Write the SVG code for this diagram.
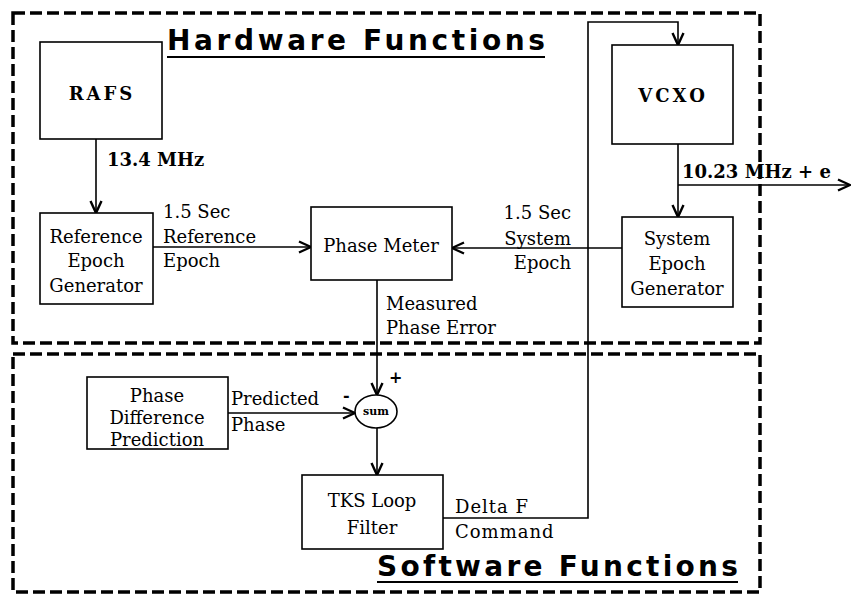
<svg xmlns="http://www.w3.org/2000/svg" width="852" height="599" viewBox="0 0 852 599">
<defs>
<marker id="arr" viewBox="0 0 14 14" refX="13" refY="7" markerWidth="14" markerHeight="14" markerUnits="userSpaceOnUse" orient="auto">
<path d="M1,1.5 L13,7 L1,12.5" fill="none" stroke="#000" stroke-width="2.4" stroke-linejoin="miter"/>
</marker>
</defs>
<style>
.region{fill:none;stroke:#000;stroke-width:3.5;stroke-dasharray:12 5}
.box{fill:#fff;stroke:#000;stroke-width:1.6}
.t{font-family:"DejaVu Serif","Liberation Serif",serif;font-size:18px;fill:#000}
.b{font-weight:bold}
.c{text-anchor:middle}
.r{text-anchor:end}
.big{letter-spacing:3px}
.sm{font-size:11px}
.sign{font-size:16px}
.title{font-family:"DejaVu Sans","Verdana",sans-serif;font-weight:bold;font-size:28px;fill:#000}
.ul{stroke:#000;stroke-width:2.2}
.ln{fill:none;stroke:#000;stroke-width:1.6}
.arrow{marker-end:url(#arr)}
</style>
<rect width="852" height="599" fill="#fff"/>

<g id="regions">
<rect class="region" x="13" y="13" width="747" height="330"/>
<rect class="region" x="13" y="354" width="747" height="238"/>
</g>

<g id="titles">
<text class="title" x="167" y="50" textLength="378" lengthAdjust="spacing">Hardware Functions</text>
<line class="ul" x1="167" y1="57" x2="545" y2="57"/>
<text class="title" x="377" y="576" textLength="361" lengthAdjust="spacing">Software Functions</text>
<line class="ul" x1="377" y1="582" x2="738" y2="582"/>
</g>

<g id="connectors">
<line class="ln arrow" x1="96" y1="139" x2="96" y2="213"/>
<line class="ln arrow" x1="153" y1="247" x2="311" y2="247"/>
<line class="ln arrow" x1="622" y1="248" x2="452" y2="248"/>
<line class="ln arrow" x1="678" y1="144" x2="678" y2="217"/>
<line class="ln arrow" x1="678" y1="185" x2="850" y2="185"/>
<line class="ln arrow" x1="377" y1="280" x2="377" y2="395"/>
<line class="ln arrow" x1="228" y1="413" x2="355" y2="413"/>
<line class="ln arrow" x1="377" y1="428" x2="377" y2="475"/>
<polyline class="ln arrow" points="443,518 588,518 588,22 678,22 678,45"/>
</g>

<g id="labels">
<text class="t b" x="107" y="166">13.4 MHz</text>
<text class="t b" x="682" y="178">10.23 MHz + e</text>
<text class="t" x="163" y="218">1.5 Sec</text>
<text class="t" x="163" y="243">Reference</text>
<text class="t" x="163" y="267">Epoch</text>
<text class="t r" x="571" y="219">1.5 Sec</text>
<text class="t r" x="571" y="245">System</text>
<text class="t r" x="571" y="269">Epoch</text>
<text class="t" x="386" y="310">Measured</text>
<text class="t" x="386" y="334">Phase Error</text>
<text class="t" x="231" y="405">Predicted</text>
<text class="t" x="231" y="431">Phase</text>
<text class="t b sign" x="343" y="401">-</text>
<text class="t b sign" x="389" y="383">+</text>
<text class="t" x="455" y="513" letter-spacing="1">Delta F</text>
<text class="t" x="455" y="538" letter-spacing="1">Command</text>
</g>

<g id="rafs">
<rect class="box" x="40" y="42" width="122" height="97"/>
<text class="t b c big" x="102" y="100">RAFS</text>
</g>

<g id="vcxo">
<rect class="box" x="612" y="45" width="121" height="99"/>
<text class="t b c big" x="673" y="102">VCXO</text>
</g>

<g id="ref-epoch-gen">
<rect class="box" x="40" y="213" width="113" height="91"/>
<text class="t c" x="96" y="243">Reference</text>
<text class="t c" x="96" y="267">Epoch</text>
<text class="t c" x="96" y="292">Generator</text>
</g>

<g id="phase-meter">
<rect class="box" x="311" y="207" width="141" height="73"/>
<text class="t c" x="381" y="252">Phase Meter</text>
</g>

<g id="sys-epoch-gen">
<rect class="box" x="622" y="217" width="111" height="90"/>
<text class="t c" x="677" y="245">System</text>
<text class="t c" x="677" y="270">Epoch</text>
<text class="t c" x="677" y="295">Generator</text>
</g>

<g id="phase-diff-pred">
<rect class="box" x="87" y="377" width="141" height="72"/>
<text class="t c" x="157" y="402">Phase</text>
<text class="t c" x="157" y="424">Difference</text>
<text class="t c" x="157" y="446">Prediction</text>
</g>

<g id="sum">
<ellipse class="box" cx="376" cy="411.5" rx="21" ry="16.5"/>
<text class="t b c sm" x="376" y="415">sum</text>
</g>

<g id="tks">
<rect class="box" x="302" y="475" width="141" height="74"/>
<text class="t c" x="372" y="507">TKS Loop</text>
<text class="t c" x="372" y="534">Filter</text>
</g>
</svg>
